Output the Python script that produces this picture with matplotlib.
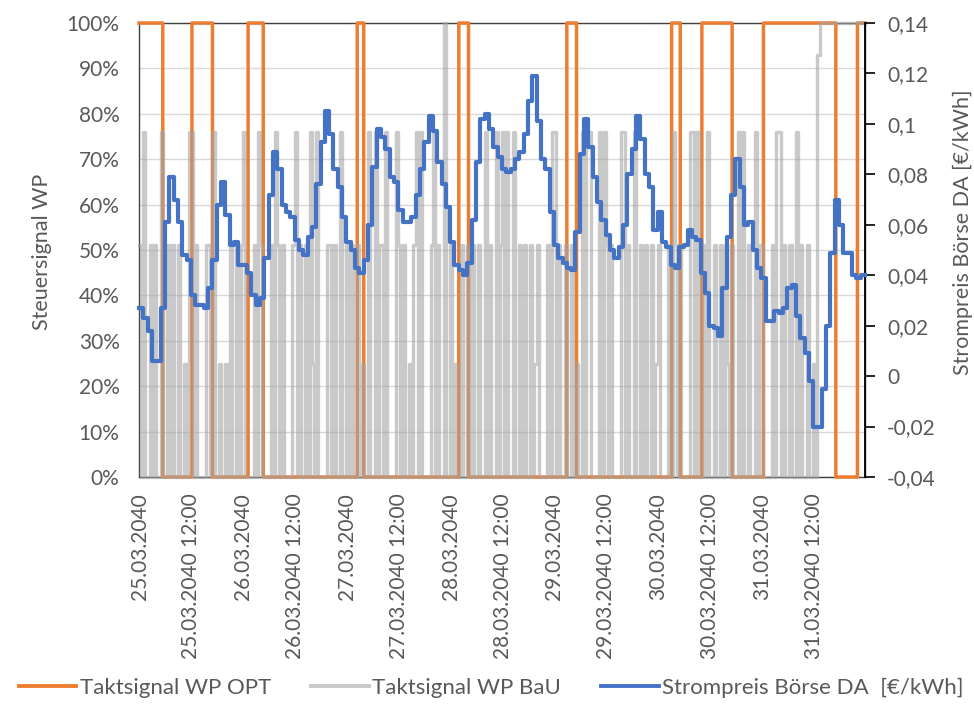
import numpy as np
import matplotlib
matplotlib.use("Agg")
import matplotlib.pyplot as plt
from matplotlib.lines import Line2D

plt.rcParams['font.family'] = ['Lato', 'DejaVu Sans']

# ---------------- data ----------------
tick_labels = ["25.03.2040", "25.03.2040 12:00", "26.03.2040", "26.03.2040 12:00",
               "27.03.2040", "27.03.2040 12:00", "28.03.2040", "28.03.2040 12:00",
               "29.03.2040", "29.03.2040 12:00", "30.03.2040", "30.03.2040 12:00",
               "31.03.2040", "31.03.2040 12:00"]
tick_hours = [0, 12, 24, 36, 48, 60, 72, 84, 96, 108, 120, 132, 144, 156]

# Strompreis Börse DA [€/kWh], hourly (168 h)
price = [0.027, 0.023, 0.018, 0.006, 0.006, 0.027, 0.061, 0.079, 0.070, 0.061,
         0.048, 0.046, 0.032, 0.028, 0.028, 0.027, 0.035, 0.046, 0.068, 0.077,
         0.064, 0.052, 0.053, 0.044, 0.044, 0.041, 0.032, 0.028, 0.031, 0.047,
         0.072, 0.089, 0.082, 0.068, 0.065, 0.063, 0.054, 0.050, 0.048, 0.055,
         0.059, 0.076, 0.093, 0.105, 0.096, 0.082, 0.075, 0.063, 0.053, 0.050,
         0.043, 0.041, 0.046, 0.060, 0.083, 0.098, 0.095, 0.090, 0.079, 0.077,
         0.066, 0.061, 0.061, 0.063, 0.072, 0.082, 0.093, 0.103, 0.097, 0.085,
         0.076, 0.067, 0.053, 0.044, 0.042, 0.040, 0.045, 0.062, 0.085, 0.102,
         0.104, 0.098, 0.091, 0.087, 0.082, 0.081, 0.082, 0.086, 0.089, 0.096,
         0.109, 0.119, 0.101, 0.086, 0.082, 0.065, 0.052, 0.047, 0.045, 0.043,
         0.042, 0.057, 0.088, 0.102, 0.091, 0.079, 0.069, 0.062, 0.056, 0.050,
         0.047, 0.051, 0.060, 0.080, 0.090, 0.103, 0.094, 0.080, 0.075, 0.058,
         0.065, 0.053, 0.051, 0.044, 0.043, 0.051, 0.052, 0.058, 0.055, 0.054,
         0.041, 0.033, 0.020, 0.019, 0.016, 0.035, 0.055, 0.072, 0.086, 0.075,
         0.060, 0.061, 0.050, 0.043, 0.039, 0.022, 0.022, 0.026, 0.025, 0.027,
         0.035, 0.036, 0.024, 0.015, 0.009, -0.002, -0.020, -0.020, -0.005, 0.020,
         0.049, 0.070, 0.060, 0.049, 0.049, 0.040, 0.039, 0.040]

# Taktsignal WP BaU [%], half-hourly (336 values)
bau = [51, 0, 76, 0, 0, 51, 0, 51, 0, 0, 76, 0, 0, 51, 0, 51, 0, 0, 51, 0,
       0, 25, 0, 76, 76, 0, 51, 0, 0, 0, 0, 51, 51, 0, 76, 0, 0, 25, 0, 0,
       25, 0, 51, 0, 0, 51, 0, 51, 76, 0, 0, 0, 0, 51, 0, 76, 51, 0, 0, 0,
       0, 51, 0, 76, 51, 0, 51, 0, 0, 0, 0, 51, 76, 0, 51, 0, 0, 51, 0, 76,
       25, 0, 76, 0, 0, 0, 0, 51, 51, 0, 51, 0, 0, 76, 0, 0, 51, 0, 51, 0,
       0, 51, 0, 25, 0, 0, 76, 0, 0, 76, 0, 51, 51, 0, 76, 0, 0, 0, 0, 76,
       51, 0, 51, 0, 0, 25, 0, 51, 76, 0, 76, 0, 0, 0, 0, 51, 76, 0, 51, 0,
       0, 100, 0, 0, 51, 0, 25, 0, 0, 51, 0, 0, 51, 0, 51, 0, 0, 51, 0, 0,
       76, 0, 51, 0, 0, 76, 0, 51, 76, 0, 76, 0, 0, 76, 0, 0, 51, 0, 51, 0,
       0, 51, 0, 25, 51, 0, 0, 0, 0, 51, 0, 76, 76, 0, 51, 0, 0, 51, 0, 0,
       51, 0, 25, 0, 0, 76, 0, 76, 76, 0, 0, 0, 0, 76, 0, 76, 51, 0, 51, 0,
       0, 0, 0, 76, 76, 0, 51, 0, 0, 76, 0, 0, 51, 0, 51, 0, 0, 51, 0, 25,
       51, 0, 0, 0, 0, 51, 0, 76, 51, 0, 51, 0, 0, 0, 0, 76, 76, 0, 76, 0,
       0, 51, 0, 76, 0, 0, 51, 0, 0, 51, 0, 51, 25, 0, 51, 0, 0, 76, 0, 76,
       0, 0, 51, 0, 0, 76, 0, 51, 51, 0, 0, 0, 0, 51, 0, 76, 76, 0, 51, 0,
       0, 51, 0, 0, 76, 0, 51, 0, 0, 51, 0, 0, 25, 0, 93, 100, 100, 100, 100, 100,
       100, 100, 100, 100, 100, 100, 100, 100, 100, 100, 100, 100, 100, 100, 100, 100]

# Taktsignal WP OPT: hours (start, end) at 100 %
opt_on = [(0, 5.5), (12.25, 17), (25.25, 28.75), (50.5, 52), (74, 76.25),
          (99, 101.25), (123.25, 125.25), (130.25, 137.25), (144.5, 161.25),
          (166.25, 168)]

n_hours = len(price)

# ---------------- build series ----------------
t15 = np.arange(n_hours * 4 + 1) * 0.25
opt = np.zeros_like(t15)
for a, b in opt_on:
    opt[(t15 >= a) & (t15 < b)] = 100
opt[-1] = opt[-2]

xh = np.arange(n_hours + 1)
price_s = np.append(price, price[-1])
x30 = np.arange(len(bau) + 1) * 0.5
bau_s = np.append(bau, bau[-1])

# ---------------- figure ----------------
fig = plt.figure(figsize=(9.74, 7.05), dpi=100)
ax = fig.add_axes([139/974, 1-477/705, 726/974, 454/705])

c_orange = '#ED7D31'
c_gray = '#A5A5A5'
c_blue = '#4472C4'
txt = '#595959'

ax.plot(t15, opt, drawstyle='steps-post', color=c_orange, lw=2.5, clip_on=False, zorder=3)
ax.plot(x30, bau_s, drawstyle='steps-post', color=c_gray, alpha=0.6, lw=2.4, clip_on=False, zorder=4)

ax.set_xlim(0, n_hours)
ax.set_ylim(0, 100)
ax.set_yticks(np.arange(0, 101, 10))
ax.set_yticklabels([f"{v}%" for v in range(0, 101, 10)])
ax.grid(axis='y', color='#D9D9D9', lw=1.0, zorder=0)
ax.set_axisbelow(True)
ax.tick_params(axis='y', length=0, pad=14, labelsize=15, labelcolor=txt)
ax.set_xticks([h + 0.125 for h in tick_hours])
ax.set_xticklabels(tick_labels, rotation=90)
ax.tick_params(axis='x', length=0, pad=12, labelsize=15, labelcolor=txt)

for s in ['left', 'right', 'top', 'bottom']:
    ax.spines[s].set_color('#404040')
    ax.spines[s].set_linewidth(1.0)

ax2 = ax.twinx()
ax2.plot(xh, price_s, drawstyle='steps-post', color=c_blue, lw=3.0, clip_on=False, zorder=5)
ax2.set_ylim(-0.04, 0.14)
pt = np.round(np.arange(-0.04, 0.1401, 0.02), 2)
ax2.set_yticks(pt)
ax2.set_yticklabels([f"{v:g}".replace('.', ',') if abs(v) > 1e-9 else "0" for v in pt])
ax2.tick_params(axis='y', length=7, width=1.2, color='black', pad=9, labelsize=15, labelcolor=txt)
ax2.spines['right'].set_color('black')
ax2.spines['right'].set_linewidth(1.3)
for s in ['left', 'top', 'bottom']:
    ax2.spines[s].set_visible(False)

fig.text(42/974, 1-252/705, "Steuersignal WP", rotation=90, ha='center', va='center',
         fontsize=15.5, color=txt)
fig.text(963/974, 1-232/705, "Strompreis Börse DA [€/kWh]", rotation=90, ha='center',
         va='center', fontsize=15.5, color=txt)

handles = [Line2D([], [], color=c_orange, lw=2.8),
           Line2D([], [], color='#C9C9C9', lw=2.8),
           Line2D([], [], color=c_blue, lw=2.8)]
labels = ["Taktsignal WP OPT", "Taktsignal WP BaU", "Strompreis Börse DA  [€/kWh]"]
leg = fig.legend(handles, labels, loc='center', bbox_to_anchor=(491/974, 1-688/705), ncol=3,
                 frameon=False, handlelength=2.6, handletextpad=0.15, columnspacing=1.8,
                 fontsize=16, labelcolor=txt)

fig.savefig("out.png", dpi=100)
